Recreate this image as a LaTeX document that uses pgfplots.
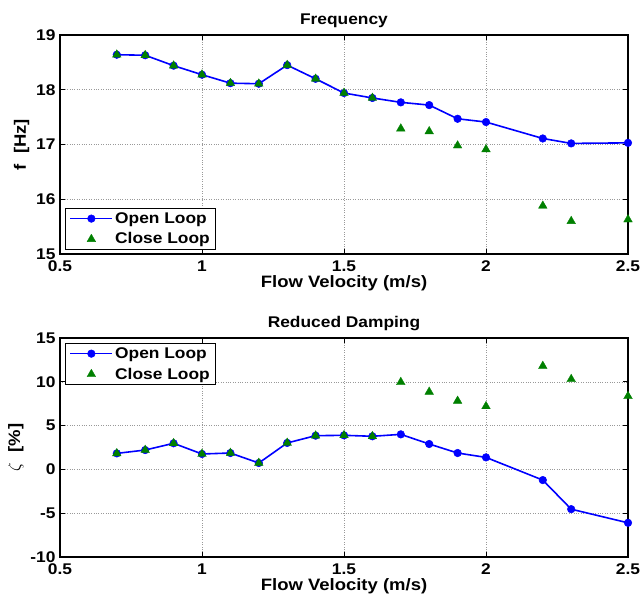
\documentclass[border=0pt]{standalone}
\usepackage{fontspec}
\setmainfont{Liberation Sans}[FakeStretch=1.12]
\usepackage{pgfplots}
\pgfplotsset{compat=1.18}
\definecolor{mgreen}{rgb}{0,0.5,0}
\newcommand{\tfont}{\fontsize{15.5}{17}\selectfont\bfseries}
\newcommand{\lfont}{\fontsize{16.5}{18}\selectfont\bfseries}
\pgfplotsset{
  mystyle/.style={
    scale only axis, width=568pt, height=219pt,
    xmin=0.5, xmax=2.5, xtick={0.5,1,1.5,2,2.5},
    grid=major, major grid style={gray!80, line width=0.6pt, dash pattern=on 0.8pt off 1.6pt},
    tick align=inside, major tick length=5pt,
    tick style={black, line width=0.8pt},
    axis line style={line width=1.1pt},
    font=\tfont,
    ticklabel style={font=\tfont},
    xticklabel style={yshift=-3pt},
    yticklabel style={xshift=-1pt},
    /pgf/number format/assume math mode=true,
    xlabel={Flow Velocity (m/s)},
    xlabel style={font=\lfont, yshift=3pt},
    ylabel style={font=\lfont},
    title style={font=\tfont, yshift=-2pt},
    legend cell align=left,
    legend style={draw=black, line width=1pt, font=\tfont, inner xsep=4pt, inner ysep=2pt, row sep=4pt,
      nodes={inner ysep=2pt}},
  },
  ol/.style={blue, line width=1.6pt, mark=*, mark size=3.8pt, mark options={fill=blue, draw=blue, line width=0.5pt},
    legend image code/.code={\draw[mark repeat=2,mark phase=2,##1] plot coordinates {(0cm,0cm) (0.74cm,0cm) (1.48cm,0cm)};}},
  cl/.style={only marks, mark=triangle*, mark size=5pt, mark options={fill=mgreen, draw=mgreen, line width=0.3pt},
    legend image code/.code={\draw[mark repeat=2,mark phase=2,##1] plot coordinates {(0cm,0cm) (0.74cm,0cm) (1.48cm,0cm)};}},
}
\begin{document}
\begin{tikzpicture}[x=1pt,y=1pt]
\useasboundingbox (0,0) rectangle (643,603);
\begin{axis}[mystyle, at={(60pt,349pt)}, anchor=south west,
  ymin=15, ymax=19, ytick={15,16,17,18,19},
  title={Frequency}, ylabel={f\ \ [Hz]},
  legend style={at={(rel axis cs:0,0)}, anchor=south west, xshift=5pt, yshift=4pt}]
\addplot[ol] coordinates {
(0.7,18.64) (0.8,18.63) (0.9,18.44) (1.0,18.275) (1.1,18.12) (1.2,18.11)
(1.3,18.45) (1.4,18.20) (1.5,17.94) (1.6,17.85) (1.7,17.77) (1.8,17.72)
(1.9,17.47) (2.0,17.41) (2.2,17.11) (2.3,17.02) (2.5,17.03)};
\addlegendentry{Open Loop}
\addplot[cl] coordinates {
(0.7,18.64) (0.8,18.63) (0.9,18.44) (1.0,18.275) (1.1,18.12) (1.2,18.11)
(1.3,18.45) (1.4,18.20) (1.5,17.94) (1.6,17.85) (1.7,17.29) (1.8,17.24)
(1.9,16.98) (2.0,16.91) (2.2,15.88) (2.3,15.60) (2.5,15.63)};
\addlegendentry{Close Loop}
\end{axis}
\begin{axis}[mystyle, at={(60pt,46pt)}, anchor=south west,
  ymin=-10, ymax=15, ytick={-10,-5,0,5,10,15},
  title={Reduced Damping}, ylabel={$\zeta$\ \ [\%]},
  legend style={at={(rel axis cs:0,1)}, anchor=north west, xshift=5pt, yshift=-5pt}]
\addplot[ol] coordinates {
(0.7,1.83) (0.8,2.21) (0.9,2.98) (1.0,1.76) (1.1,1.87) (1.2,0.73)
(1.3,3.02) (1.4,3.85) (1.5,3.89) (1.6,3.78) (1.7,4.0) (1.8,2.9)
(1.9,1.87) (2.0,1.37) (2.2,-1.22) (2.3,-4.54) (2.5,-6.1)};
\addlegendentry{Open Loop}
\addplot[cl] coordinates {
(0.7,1.83) (0.8,2.21) (0.9,2.98) (1.0,1.76) (1.1,1.87) (1.2,0.73)
(1.3,3.02) (1.4,3.85) (1.5,3.89) (1.6,3.78) (1.7,9.96) (1.8,8.85)
(1.9,7.82) (2.0,7.2) (2.2,11.8) (2.3,10.3) (2.5,8.36)};
\addlegendentry{Close Loop}
\end{axis}
\end{tikzpicture}
\end{document}
